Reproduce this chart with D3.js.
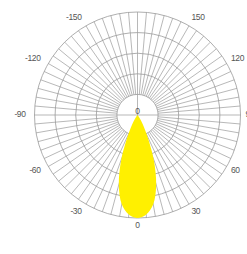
<!DOCTYPE html>
<html><head><meta charset="utf-8">
<script src="https://cdn.jsdelivr.net/npm/d3@7"></script>
<style>html,body{margin:0;padding:0;background:#fff;}svg{display:block;}</style>
</head><body>
<script>
// Data: relative intensity (%) vs angle (deg), symmetric beam
const beamAngles = [0,5,10,15,20,25,30,35,40,45];
const beamValues = [100,97,88,70,46,22,10,4,1,0];
const ringValues = [20,40,60,80,100];
const angleLabels = [-150,-120,-90,-60,-30,0,30,60,90,120,150];
const spokeStep = 5;

const W = 247, H = 254, cx = 137.5, cy = 115, R = 103;
const svg = d3.select("body").append("svg").attr("width", W).attr("height", H);
const rScale = d3.scaleLinear().domain([0, 100]).range([0, R]);
const g = svg.append("g").attr("transform", `translate(${cx},${cy})`);

const toRad = a => a * Math.PI / 180;
// chart angle a: 0 at bottom, positive toward right
const pt = (a, r) => [Math.sin(toRad(a)) * r, Math.cos(toRad(a)) * r];

// spokes
const spokes = d3.range(0, 360, spokeStep);
g.selectAll("line.spoke").data(spokes).join("line")
  .attr("class", "spoke")
  .attr("x1", a => pt(a, a % 90 === 0 ? 0 : rScale(ringValues[0]))[0])
  .attr("y1", a => pt(a, a % 90 === 0 ? 0 : rScale(ringValues[0]))[1])
  .attr("x2", a => pt(a, rScale(100))[0])
  .attr("y2", a => pt(a, rScale(100))[1])
  .attr("stroke", "#999").attr("stroke-width", 0.7);

// rings
g.selectAll("circle.ring").data(ringValues).join("circle")
  .attr("class", "ring")
  .attr("r", d => rScale(d))
  .attr("fill", "none").attr("stroke", "#999").attr("stroke-width", 0.8);

// beam data full circle
const full = [];
for (let a = -180; a < 180; a += 5) {
  const idx = beamAngles.indexOf(Math.abs(a));
  full.push({a, v: idx >= 0 ? beamValues[idx] : 0});
}
const line = d3.lineRadial()
  .angle(d => Math.PI - toRad(d.a))
  .radius(d => rScale(d.v))
  .curve(d3.curveCatmullRomClosed.alpha(0.5));
g.append("path").datum(full).attr("d", line).attr("fill", "#fff000").attr("stroke", "none");

// labels
g.selectAll("text.ang").data(angleLabels).join("text")
  .attr("class", "ang")
  .attr("x", a => a === 0 ? 0 : Math.sin(toRad(a)) * (a > 0 ? 108 : 112))
  .attr("y", a => a === 0 ? 111 : Math.cos(toRad(a)) * 112)
  .attr("text-anchor", a => a === 0 ? "middle" : (a > 0 ? "start" : "end"))
  .attr("dominant-baseline", "middle")
  .attr("font-family", "Liberation Sans, Arial, sans-serif")
  .attr("font-size", 8.5).attr("letter-spacing", -0.4)
  .attr("fill", "#555")
  .text(d => d);

g.append("text").attr("x", 0).attr("y", -3.5)
  .attr("text-anchor", "middle").attr("dominant-baseline", "middle")
  .attr("font-family", "Liberation Sans, Arial, sans-serif")
  .attr("font-size", 8.5).attr("fill", "#555").text("0");
</script>
</body></html>
